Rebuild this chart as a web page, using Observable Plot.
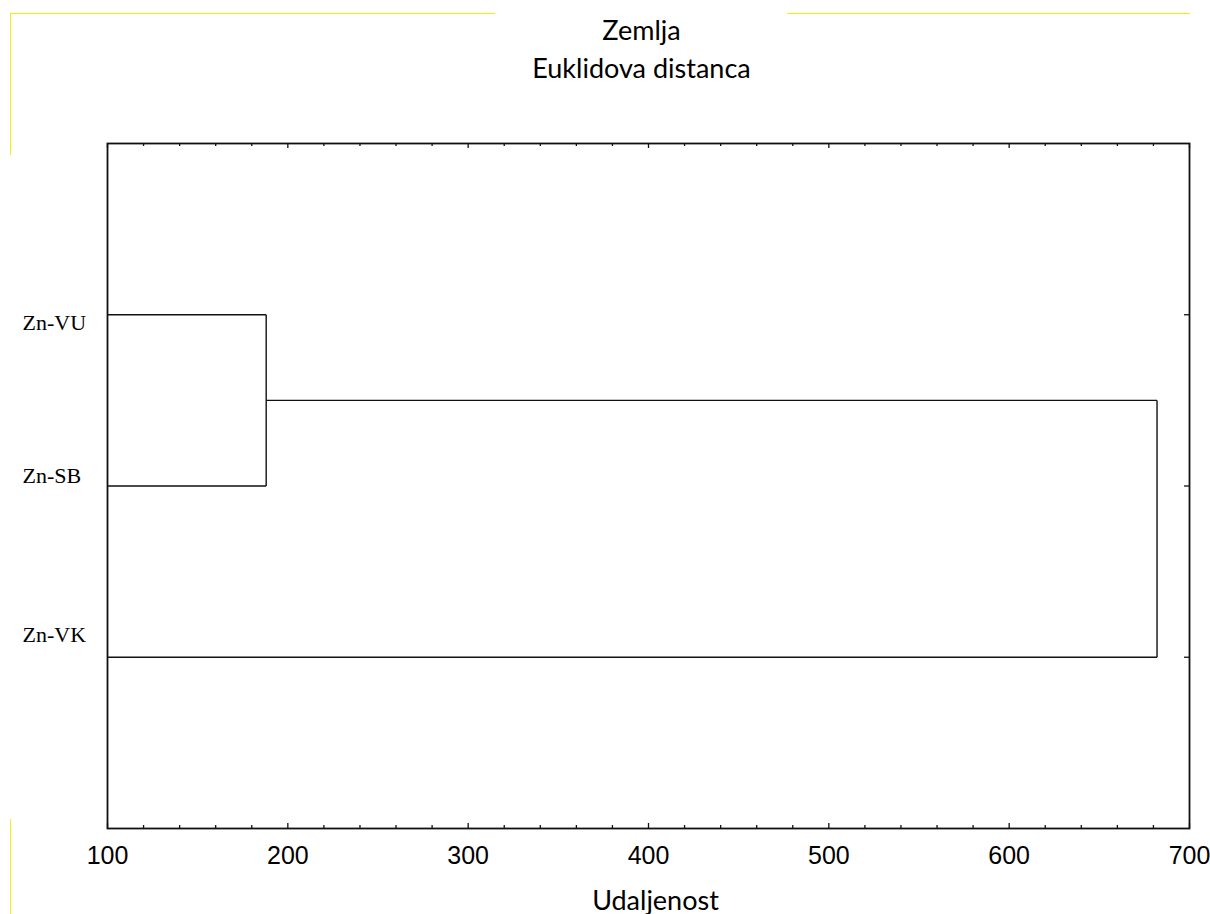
<!DOCTYPE html>
<html><head><meta charset="utf-8">
<script src="https://cdn.jsdelivr.net/npm/d3@7"></script>
<script src="https://cdn.jsdelivr.net/npm/@observablehq/plot@0.6"></script>
<style>
html,body{margin:0;padding:0;background:#fff;}
#wrap{position:relative;width:1210px;height:914px;overflow:hidden;}
#wrap svg{position:absolute;left:0;top:0;}
.yl{position:absolute;background:#f0f000;z-index:2;}
</style></head><body>
<div id="wrap">
<div class="yl" style="left:10px;top:13px;width:485px;height:1px"></div>
<div class="yl" style="left:787px;top:13px;width:403px;height:1px"></div>
<div class="yl" style="left:10px;top:13px;width:1px;height:142px"></div>
<div class="yl" style="left:10px;top:819px;width:1px;height:95px"></div>
</div>
<script>
// ---- data ----
const titleLines = ["Zemlja", "Euklidova distanca"];
const xLabel = "Udaljenost";
const leaves = ["Zn-VU", "Zn-SB", "Zn-VK"];
const mergeNames = ["C1", "C2"];
const mergeLeft = ["Zn-VU", "C1"];
const mergeRight = ["Zn-SB", "Zn-VK"];
const mergeDistance = [188, 682];
const xTicks = [100, 200, 300, 400, 500, 600, 700];
const xMinorTicks = [120, 140, 160, 180, 220, 240, 260, 280, 320, 340, 360, 380, 420, 440, 460, 480, 520, 540, 560, 580, 620, 640, 660, 680];

// ---- build dendrogram segments ----
const xMin = xTicks[0], xMax = xTicks[xTicks.length - 1];
const pos = new Map();
leaves.forEach((name, i) => pos.set(name, {x: xMin, y: i + 1}));
const segments = [];
mergeNames.forEach((name, k) => {
  const a = pos.get(mergeLeft[k]), b = pos.get(mergeRight[k]), d = mergeDistance[k];
  segments.push({x1: a.x, y1: a.y, x2: d, y2: a.y});
  segments.push({x1: b.x, y1: b.y, x2: d, y2: b.y});
  segments.push({x1: d, y1: a.y, x2: d, y2: b.y});
  pos.set(name, {x: d, y: (a.y + b.y) / 2});
});

const W = 1210, H = 914, mL = 107, mR = 21, mT = 143, mB = 86;
const fw = W - mL - mR, fh = H - mT - mB;
const ink = "#111";
const sans = "'Liberation Sans', Arial, sans-serif";
const serif = "'Liberation Serif', 'Times New Roman', serif";
const titleFont = "Lato, 'Open Sans', sans-serif";
const labelNudge = [15, -3, -15];

const chart = Plot.plot({
  width: W, height: H,
  marginLeft: mL, marginRight: mR, marginTop: mT, marginBottom: mB,
  x: {domain: [xMin, xMax]},
  y: {domain: [0, leaves.length + 1], reverse: true, axis: null},
  style: {background: "transparent", color: ink, fontFamily: sans},
  marks: [
    Plot.frame({stroke: ink, strokeWidth: 1.8}),
    // inward ticks bottom
    Plot.ruleX(xTicks, {x: d => d, insetTop: fh - 5, stroke: ink, strokeWidth: 1.3}),
    Plot.ruleX(xMinorTicks, {x: d => d, insetTop: fh - 3, stroke: ink, strokeWidth: 1.3}),
    // inward ticks top
    Plot.ruleX(xTicks, {x: d => d, insetBottom: fh - 5, stroke: ink, strokeWidth: 1.3}),
    Plot.ruleX(xMinorTicks, {x: d => d, insetBottom: fh - 3, stroke: ink, strokeWidth: 1.3}),
    // inward ticks right at leaves
    Plot.ruleY(leaves, {y: (d, i) => i + 1, insetLeft: fw - 5, stroke: ink, strokeWidth: 1.3}),
    Plot.axisX(xTicks, {anchor: "bottom", tickSize: 0, tickPadding: 18, fontSize: 25, fontFamily: sans, fill: "#000", label: null}),
    // dendrogram
    Plot.link(segments, {x1: "x1", y1: "y1", x2: "x2", y2: "y2", stroke: ink, strokeWidth: 1.4}),
    // leaf labels
    ...leaves.map((name, i) => Plot.text([name], {
      text: d => d, y: () => i + 1, frameAnchor: "left", dx: -85, dy: labelNudge[i],
      textAnchor: "start", lineAnchor: "bottom", fontSize: 22, fontFamily: serif, fill: "#000"
    })),
    // titles
    Plot.text([titleLines[0]], {text: d => d, frameAnchor: "top", dx: -7, dy: 39 - mT, lineAnchor: "bottom", fontSize: 27, fontFamily: titleFont, fill: "#000"}),
    Plot.text([titleLines[1]], {text: d => d, frameAnchor: "top", dx: -7, dy: 77 - mT, lineAnchor: "bottom", fontSize: 27, fontFamily: titleFont, fill: "#000"}),
    Plot.text([xLabel], {text: d => d, frameAnchor: "bottom", dx: 7, dy: 909 - (H - mB), lineAnchor: "bottom", fontSize: 27, fontFamily: titleFont, fill: "#000"})
  ]
});
document.getElementById("wrap").prepend(chart);
</script>
</body></html>
